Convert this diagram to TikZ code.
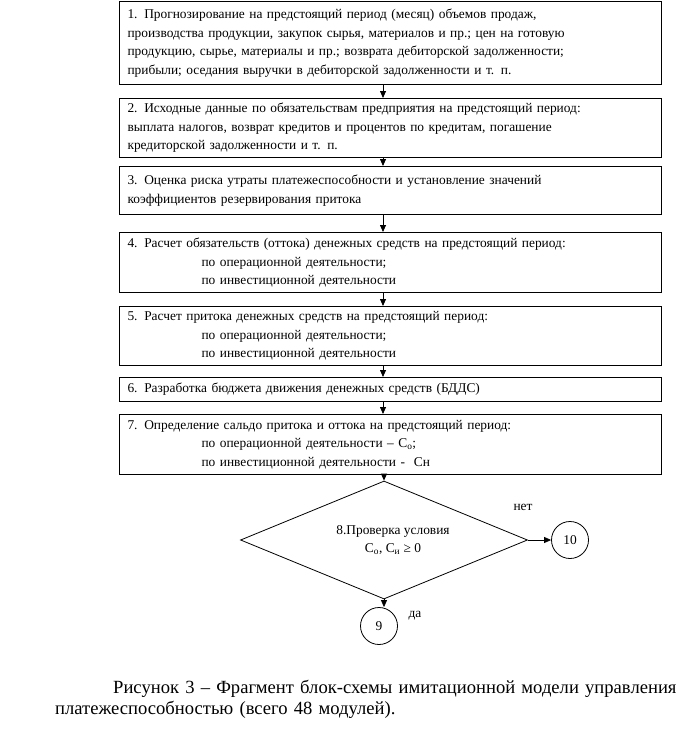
\documentclass[tikz,border=0pt]{standalone}
\usepackage{fontspec}
\setmainfont{Liberation Serif}
\usepackage{tikz}
\usetikzlibrary{arrows.meta}
\usetikzlibrary{positioning}
\usetikzlibrary{shapes.geometric}

\tikzset{
  blk/.style={draw, line width=1pt, text width=526pt, inner xsep=8pt, inner ysep=0pt,
    align=left, font=\fontsize{13.4}{18.5}\selectfont},
  arr/.style={-{Triangle[length=7pt,width=6pt]}, line width=0.8pt},
  conn/.style={draw, circle, line width=0.8pt, minimum size=37pt, inner sep=0pt,
    font=\fontsize{13.4}{15}\selectfont},
  lbl/.style={inner sep=0pt, font=\fontsize{13.4}{15}\selectfont}
}
\newcommand{\ind}{\hspace*{74pt}}

\begin{document}
\begin{tikzpicture}[x=1pt,y=-1pt]
    \useasboundingbox (0,0) rectangle (697,734);

    \node[blk, anchor=north west, minimum height=83pt] (b1) at (119,1)
        {1. Прогнозирование на предстоящий период (месяц) объемов продаж,\\
         производства продукции, закупок сырья, материалов и пр.; цен на готовую\\
         продукцию, сырье, материалы и пр.; возврата дебиторской задолженности;\\
         прибыли; оседания выручки в дебиторской задолженности и т. п.};
    \node[blk, below=13pt of b1, minimum height=59pt] (b2)
        {2. Исходные данные по обязательствам предприятия на предстоящий период:\\
         выплата налогов, возврат кредитов и процентов по кредитам, погашение\\
         кредиторской задолженности и т. п.};
    \node[blk, below=8pt of b2, minimum height=48pt] (b3)
        {3. Оценка риска утраты платежеспособности и установление значений\\
         коэффициентов резервирования притока};
    \node[blk, below=17pt of b3, minimum height=60pt] (b4)
        {4. Расчет обязательств (оттока) денежных средств на предстоящий период:\\
         \ind по операционной деятельности;\\
         \ind по инвестиционной деятельности};
    \node[blk, below=13pt of b4, minimum height=59pt] (b5)
        {5. Расчет притока денежных средств на предстоящий период:\\
         \ind по операционной деятельности;\\
         \ind по инвестиционной деятельности};
    \node[blk, below=11pt of b5, minimum height=24pt] (b6)
        {6. Разработка бюджета движения денежных средств (БДДС)};
    \node[blk, below=12pt of b6, minimum height=60pt] (b7)
        {7. Определение сальдо притока и оттока на предстоящий период:\\
         \ind по операционной деятельности – С\textsubscript{о};\\
         \ind по инвестиционной деятельности -\ \ Сн};

    \coordinate (ax) at (383,0);
    \foreach \a/\b in {b1/b2,b2/b3,b3/b4,b4/b5,b5/b6,b6/b7}
        \draw[arr] (\a.south -| ax) -- (\b.north -| ax);

    \node[diamond, draw, line width=0.8pt, aspect=2.4, inner sep=0pt,
          minimum width=287pt, minimum height=118pt, align=center,
          font=\fontsize{13.4}{18}\selectfont] (d) at (384,540)
        {\hspace*{18pt}8.Проверка условия\\\hspace*{18pt}С\textsubscript{о}, С\textsubscript{и} ≥ 0};
    \draw[arr] (b7.south -| d.north) -- (d.north);

    \node[conn] (c10) at (570,540) {10};
    \node[conn] (c9) at (379,626) {9};
    \draw[arr] (d.east) -- (c10);
    \draw[arr] (d.south) -- (d.south |- c9.north);

    \node[lbl] (no) at (523,507) {нет};
    \node[lbl] (yes) at (415,616) {да};

    \node[anchor=north west, inner sep=0pt, text width=635pt, align=left,
          font=\fontsize{18.6}{21}\selectfont] (cap) at (55,680)
        {\hspace*{58pt}Рисунок 3 – Фрагмент блок-схемы имитационной модели управления\\
         платежеспособностью (всего 48 модулей).};
\end{tikzpicture}
\end{document}
